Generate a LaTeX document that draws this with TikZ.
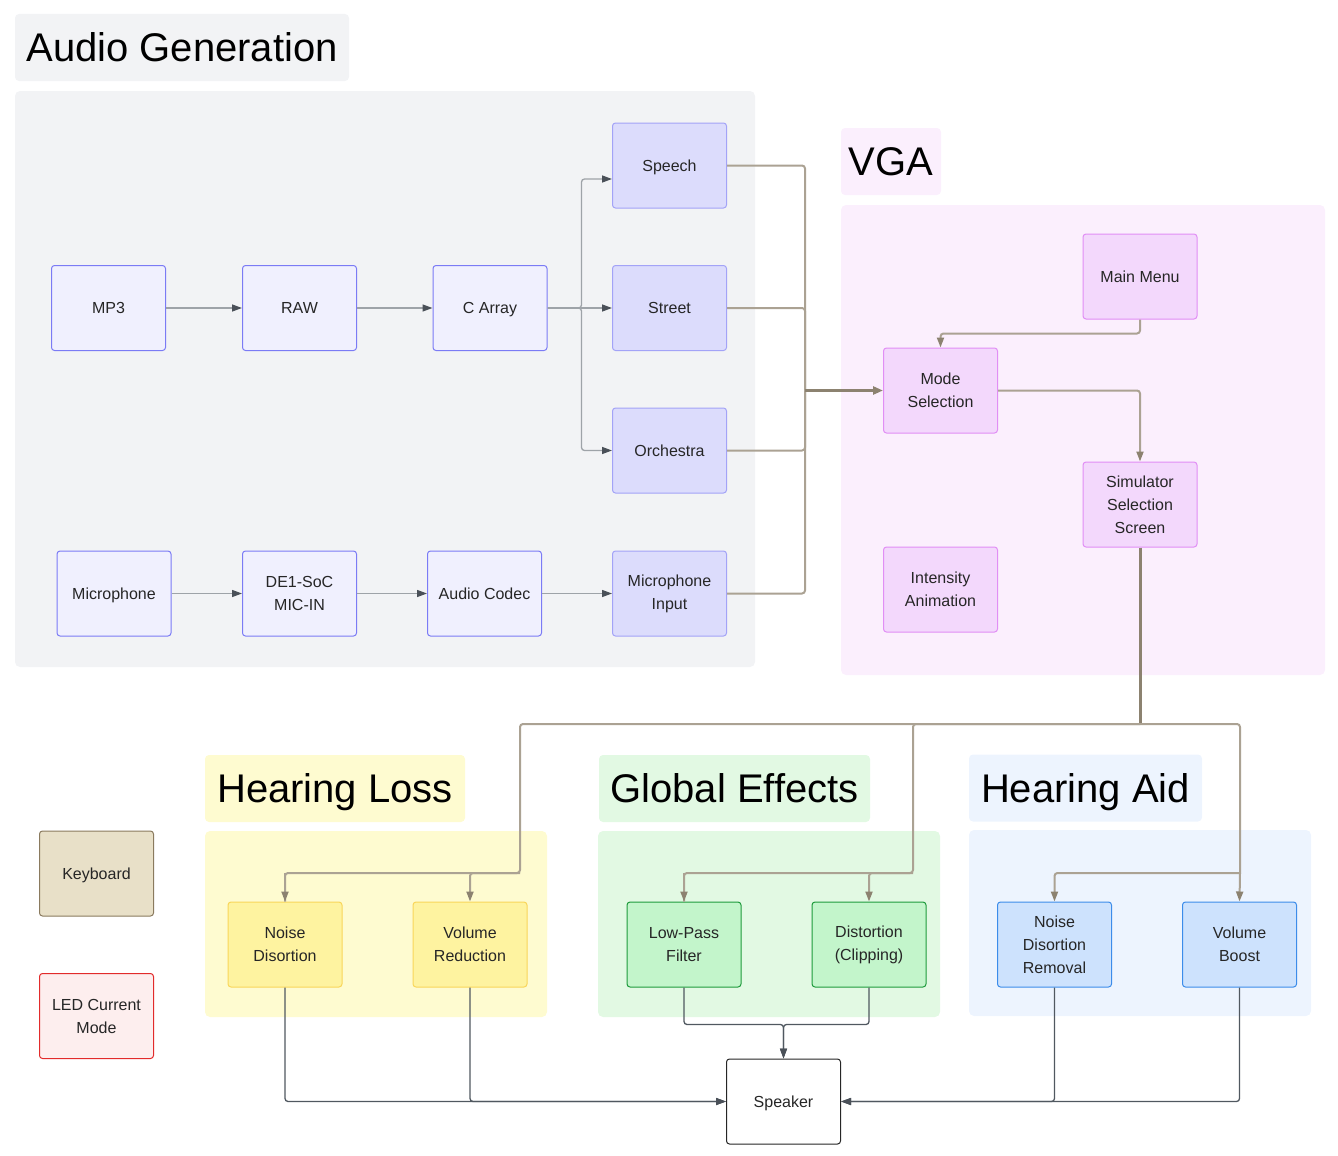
\documentclass[tikz,border=0pt]{standalone}
\usepackage{fontspec}
\setmainfont{Liberation Sans}
\usepackage{tikz}
\usetikzlibrary{arrows.meta}
\usetikzlibrary{calc}

\definecolor{agbg}{HTML}{F2F3F5}
\definecolor{vgabg}{HTML}{FBEFFD}
\definecolor{hlbg}{HTML}{FEFBD0}
\definecolor{gebg}{HTML}{E2F9E3}
\definecolor{habg}{HTML}{EDF4FE}
\definecolor{srcfill}{HTML}{F0F0FE}
\definecolor{srcdraw}{HTML}{7B7BF5}
\definecolor{sndfill}{HTML}{DCDCFC}
\definecolor{snddraw}{HTML}{A3A3F7}
\definecolor{vgafill}{HTML}{F3D8FC}
\definecolor{vgadraw}{HTML}{E18EF5}
\definecolor{hlfill}{HTML}{FEF3A0}
\definecolor{hldraw}{HTML}{F9D65A}
\definecolor{gefill}{HTML}{C3F5CB}
\definecolor{gedraw}{HTML}{1E9B3C}
\definecolor{hafill}{HTML}{CDE2FD}
\definecolor{hadraw}{HTML}{3C8CEA}
\definecolor{kbfill}{HTML}{E8E0C8}
\definecolor{kbdraw}{HTML}{8A7A5E}
\definecolor{ledfill}{HTML}{FDEEEE}
\definecolor{leddraw}{HTML}{E22B2B}
\definecolor{tan}{HTML}{ABA293}
\definecolor{tandark}{HTML}{8C8270}
\definecolor{grayline}{HTML}{9EA3A8}
\definecolor{graytip}{HTML}{4A5058}
\definecolor{darkline}{HTML}{505860}

\newcommand\boxfont{\fontsize{16}{23}\selectfont}
\newcommand\titlefont{\fontsize{40}{48}\selectfont}

\tikzset{
  box/.style={rectangle, rounded corners=3pt, minimum width=114pt, minimum height=85pt,
    inner sep=0pt, align=center, font=\boxfont, text=black!85, line width=1pt},
  oneline/.style={text height=11.5pt, text depth=0pt},
  srcbox/.style={box, fill=srcfill, draw=srcdraw},
  sndbox/.style={box, fill=sndfill, draw=snddraw},
  vgabox/.style={box, fill=vgafill, draw=vgadraw},
  hlbox/.style={box, fill=hlfill, draw=hldraw},
  gebox/.style={box, fill=gefill, draw=gedraw},
  habox/.style={box, fill=hafill, draw=hadraw},
  title/.style={rectangle, rounded corners=4pt, minimum height=67pt, inner sep=0pt,
    font=\titlefont, text height=28.6pt, text depth=0pt},
  group/.style={rounded corners=5pt},
  grayarrow/.style={draw=grayline, line width=1.3pt, rounded corners=3pt,
    arrows={-{Triangle[length=10pt,width=7pt,fill=graytip,color=graytip]}}},
  tanline/.style={draw=tan, line width=2pt, rounded corners=3pt},
  tanarrow/.style={tanline, arrows={-{Triangle[length=10pt,width=7pt,fill=tandark,color=tandark]}}},
  tanthick/.style={draw=tandark, line width=3pt, rounded corners=3pt},
  darkarrow/.style={draw=darkline, line width=1.3pt, rounded corners=3pt,
    arrows={-{Triangle[length=10pt,width=7pt,fill=graytip,color=graytip]}}},
}

\begin{document}
\begin{tikzpicture}[x=1pt,y=-1pt]
\useasboundingbox (0,0) rectangle (1338,1156);

% group backgrounds
\fill[group, agbg] (15,91) rectangle (755,667);
\fill[group, vgabg] (841,205) rectangle (1325,675);
\fill[group, hlbg] (205,831) rectangle (547,1017);
\fill[group, gebg] (598,831) rectangle (940,1017);
\fill[group, habg] (969,830) rectangle (1311,1016);

\node[title, fill=agbg, minimum width=334pt] (agtitle) at (182,47.5) {Audio Generation};
\node[title, fill=vgabg, minimum width=100pt] (vgatitle) at (891,161.5) {VGA};
\node[title, fill=hlbg, minimum width=260pt] (hltitle) at (335,788.5) {Hearing Loss};
\node[title, fill=gebg, minimum width=271pt] (getitle) at (734.5,788.5) {Global Effects};
\node[title, fill=habg, minimum width=233pt] (hatitle) at (1085.5,788) {Hearing Aid};

% audio generation
\node[srcbox, oneline] (mp3) at (108.5,308) {MP3};
\node[srcbox, oneline] (raw) at (299.5,308) {RAW};
\node[srcbox, oneline] (carray) at (490,308) {C Array};
\node[sndbox, oneline] (speech) at (669.5,165.5) {Speech};
\node[sndbox, oneline] (street) at (669.5,308) {Street};
\node[sndbox, oneline] (orch) at (669.5,450.5) {Orchestra};
\node[srcbox, oneline] (mic) at (114,593.5) {Microphone};
\node[srcbox] (de1) at (299.5,593.5) {DE1-SoC\\MIC-IN};
\node[srcbox, oneline] (codec) at (484.5,593.5) {Audio Codec};
\node[sndbox] (micin) at (669.5,593.5) {Microphone\\Input};

% vga
\node[vgabox, oneline] (menu) at (1140,276.5) {Main Menu};
\node[vgabox] (mode) at (940.5,390.5) {Mode\\Selection};
\node[vgabox] (sim) at (1140,504.5) {Simulator\\Selection\\Screen};
\node[vgabox] (anim) at (940.5,589.5) {Intensity\\Animation};

% effects
\node[hlbox] (noise) at (285,944.5) {Noise\\Disortion};
\node[hlbox] (volred) at (470,944.5) {Volume\\Reduction};
\node[gebox] (lowpass) at (684,944.5) {Low-Pass\\Filter};
\node[gebox] (clip) at (869,944.5) {Distortion\\(Clipping)};
\node[habox] (ndr) at (1054.5,944.5) {Noise\\Disortion\\Removal};
\node[habox] (boost) at (1239.5,944.5) {Volume\\Boost};

\node[box, oneline, fill=kbfill, draw=kbdraw] (kb) at (96.5,873.5) {Keyboard};
\node[box, fill=ledfill, draw=leddraw] (led) at (96.5,1016) {LED Current\\Mode};
\node[box, oneline, fill=white, draw=black!85] (speaker) at (783.5,1101.5) {Speaker};

\coordinate (join) at (805,390.5);
\coordinate (split) at (1140,724);
\coordinate (hlturn) at (520,873);
\coordinate (geturn) at (913,873);
\coordinate (haturn) at (1240,873);

\draw[grayarrow] (mp3) -- (raw);
\draw[grayarrow] (raw) -- (carray);
\draw[grayarrow] (mic) -- (de1);
\draw[grayarrow] (de1) -- (codec);
\draw[grayarrow] (codec) -- (micin);
\draw[grayarrow] (carray.east) -- ++(34,0) |- ([yshift=-13.5pt]speech.west);
\draw[grayarrow] (carray.east) -- (street.west);
\draw[grayarrow] (carray.east) -- ++(34,0) |- (orch.west);

\draw[tanline] (speech.east) -| (join);
\draw[tanline] (street.east) -| (join);
\draw[tanline] (orch.east) -| (join);
\draw[tanline] (micin.east) -| (join);
\draw[tanthick, arrows={-{Triangle[length=10pt,width=8pt,fill=tandark,color=tandark]}}] (join) -- (mode.west);

\draw[tanarrow] (menu.south) -- ++(0,14) -| (mode.north);
\draw[tanarrow] (mode.east) -| (sim.north);

\draw[tanthick] (sim.south) -- (split);
\draw[tanline] (split) -| (hlturn) -| (noise.north);
\draw[tanarrow] (hlturn) -| (volred.north);
\draw[tanarrow] (noise.north |- hlturn) -- (noise.north);
\draw[tanline] (split) -| (geturn) -| (lowpass.north);
\draw[tanarrow] (geturn) -| (clip.north);
\draw[tanarrow] (lowpass.north |- geturn) -- (lowpass.north);
\draw[tanline] (split) -| (haturn);
\draw[tanarrow] (haturn) -- (boost.north);
\draw[tanarrow] (haturn) -| (ndr.north);

\draw[darkarrow] (noise.south) |- (speaker.west);
\draw[darkarrow] (volred.south) |- (speaker.west);
\draw[darkarrow] (lowpass.south) -- ++(0,37) -| (speaker.north);
\draw[darkarrow] (clip.south) -- ++(0,37) -| (speaker.north);
\draw[darkarrow] (ndr.south) |- (speaker.east);
\draw[darkarrow] (boost.south) |- (speaker.east);
\end{tikzpicture}
\end{document}
